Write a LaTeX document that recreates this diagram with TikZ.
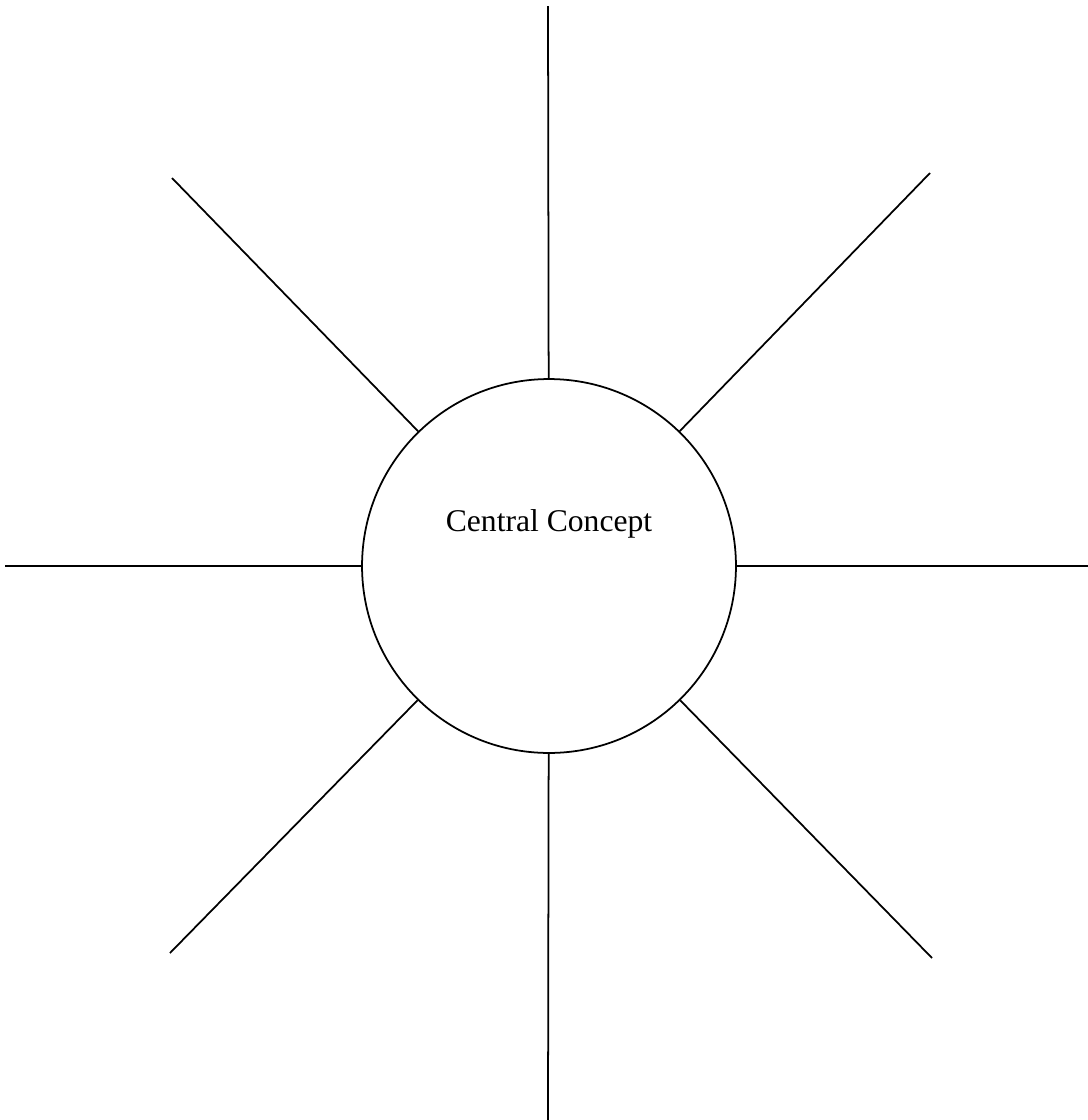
\documentclass[tikz,border=0pt]{standalone}
\usepackage{fontspec}
\setmainfont{Liberation Serif}
\usepackage{tikz}
\usetikzlibrary{positioning,calc}

\begin{document}
\begin{tikzpicture}[
  x=0.02cm,y=-0.02cm,
  hub/.style={draw,circle,line width=1pt,minimum size=7.48cm,inner sep=0pt},
  spoke/.style={line width=1pt},
  title/.style={font=\fontsize{18}{22}\selectfont}
]
  \useasboundingbox (0,0) rectangle (1088,1120);
  \node[hub] (hub) at (549,566) {};
  \node[title] (concept) at (549,524) {Central Concept};
  \coordinate (n) at (548,6);
  \coordinate (s) at (548,1120);
  \coordinate (w) at (5,566);
  \coordinate (e) at (1088,566);
  \coordinate (nw) at (172,178);
  \coordinate (ne) at (930,173);
  \coordinate (sw) at (170,953);
  \coordinate (se) at (932,958);
  \draw[spoke] (hub)--(n); \draw[spoke] (hub)--(s);
  \draw[spoke] (hub)--(w); \draw[spoke] (hub)--(e);
  \draw[spoke] (hub)--(nw); \draw[spoke] (hub)--(ne);
  \draw[spoke] (hub)--(sw); \draw[spoke] (hub)--(se);
\end{tikzpicture}
\end{document}
